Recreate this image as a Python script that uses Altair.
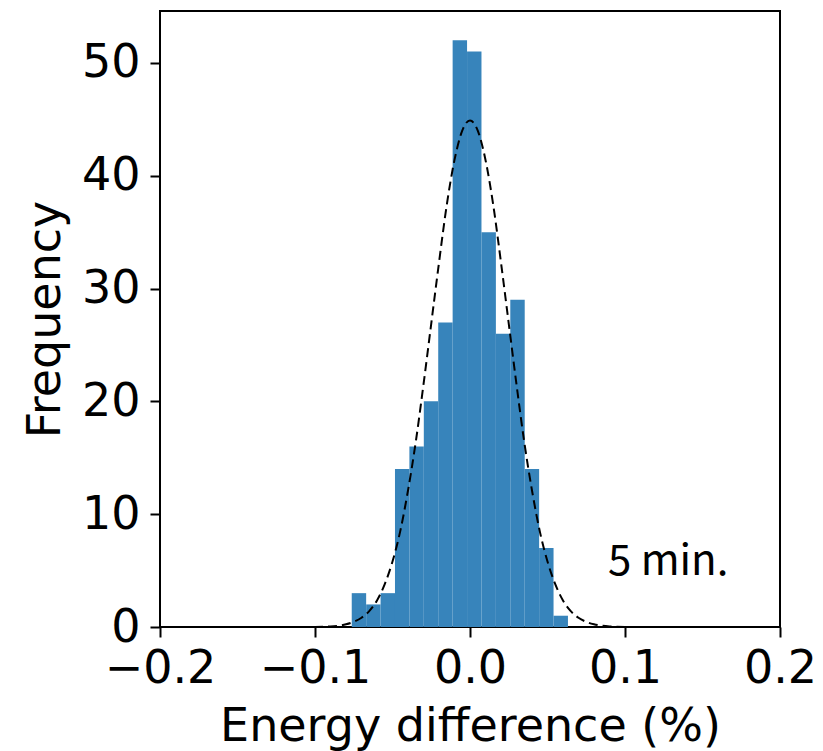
import altair as alt
import pandas as pd

# Histogram bins (left edges, right edges) and counts
bin_left = [-0.0763, -0.0670, -0.0577, -0.0484, -0.0391, -0.0298, -0.0205, -0.0112,
            -0.0019, 0.0074, 0.0167, 0.0260, 0.0353, 0.0446, 0.0539]
bin_right = [-0.0670, -0.0577, -0.0484, -0.0391, -0.0298, -0.0205, -0.0112, -0.0019,
             0.0074, 0.0167, 0.0260, 0.0353, 0.0446, 0.0539, 0.0632]
counts = [3, 2, 3, 14, 16, 20, 27, 52, 51, 35, 26, 29, 14, 7, 1]

# Dashed fitted curve
curve_x = [-0.2, -0.15, -0.1, -0.09, -0.08, -0.075, -0.07, -0.065, -0.06, -0.055, -0.05,
           -0.045, -0.04, -0.035, -0.03, -0.025, -0.02, -0.015, -0.01, -0.005, 0.0,
           0.005, 0.01, 0.015, 0.02, 0.025, 0.03, 0.035, 0.04, 0.045, 0.05, 0.055,
           0.06, 0.065, 0.07, 0.075, 0.08, 0.09, 0.1, 0.15, 0.2]
curve_y = [0.0, 0.0, 0.01, 0.05, 0.24, 0.46, 0.82, 1.41, 2.35, 3.8, 5.8,
           8.5, 12.1, 16.4, 21.5, 26.9, 32.3, 37.4, 41.4, 44.0, 44.9,
           44.0, 41.4, 37.4, 32.3, 26.9, 21.5, 16.4, 12.1, 8.5, 5.8, 3.8,
           2.35, 1.41, 0.82, 0.46, 0.24, 0.05, 0.01, 0.0, 0.0]

annotation = "5 min."

bars_df = pd.DataFrame({"x0": bin_left, "x1": bin_right, "count": counts})
curve_df = pd.DataFrame({"x": curve_x, "y": curve_y})
text_df = pd.DataFrame({"x": [0.089], "y": [4.6], "t": [annotation]})

FONT = "DejaVu Sans"
xscale = alt.Scale(domain=[-0.2, 0.2], nice=False, zero=False)
yscale = alt.Scale(domain=[0, 54.6], nice=False)

xaxis = alt.Axis(values=[-0.2, -0.1, 0.0, 0.1, 0.2], format=".1f", domain=False,
                 grid=False, tickSize=10, tickWidth=2, tickColor="black",
                 labelOverlap=False, labelFlush=False,
                 labelFont=FONT, labelFontSize=46, labelColor="black", labelPadding=9,
                 title="Energy difference (%)", titleFont=FONT, titleFontSize=46,
                 titleFontWeight="normal", titleColor="black",
                 titleX=310, titleY=113, titleBaseline="alphabetic", titleAnchor="middle")
yaxis = alt.Axis(values=[0, 10, 20, 30, 40, 50], domain=False, grid=False,
                 tickSize=10, tickWidth=2, tickColor="black",
                 labelOverlap=False, labelFlush=False,
                 labelFont=FONT, labelFontSize=46, labelColor="black", labelPadding=10,
                 title="Frequency", titleFont=FONT, titleFontSize=46,
                 titleFontWeight="normal", titleColor="black",
                 titleX=-115, titleY=308, titleAngle=-90, titleAlign="center",
                 titleBaseline="middle")

bars = alt.Chart(bars_df).mark_rect(color="#3784bb").encode(
    x=alt.X("x0:Q", scale=xscale, axis=xaxis),
    x2="x1:Q",
    y=alt.Y("count:Q", scale=yscale, axis=yaxis),
    y2=alt.datum(0),
)

curve = alt.Chart(curve_df).mark_line(
    color="black", strokeDash=[9, 5], strokeWidth=2, interpolate="monotone"
).encode(
    x=alt.X("x:Q", scale=xscale),
    y=alt.Y("y:Q", scale=yscale),
)

label = alt.Chart(text_df).mark_text(
    font="Noto Sans CJK JP", fontSize=42, align="left", baseline="alphabetic", color="black"
).encode(
    x=alt.X("x:Q", scale=xscale),
    y=alt.Y("y:Q", scale=yscale),
    text="t:N",
)

chart = (bars + curve + label).properties(
    width=620, height=616,
    autosize=alt.AutoSizeParams(type="none"),
    padding={"left": 160, "top": 11, "right": 43, "bottom": 124},
    background="white",
).configure_view(stroke="black", strokeWidth=2, strokeOpacity=1)

chart.save("out.html", embed_options={"renderer": "svg", "actions": False})
